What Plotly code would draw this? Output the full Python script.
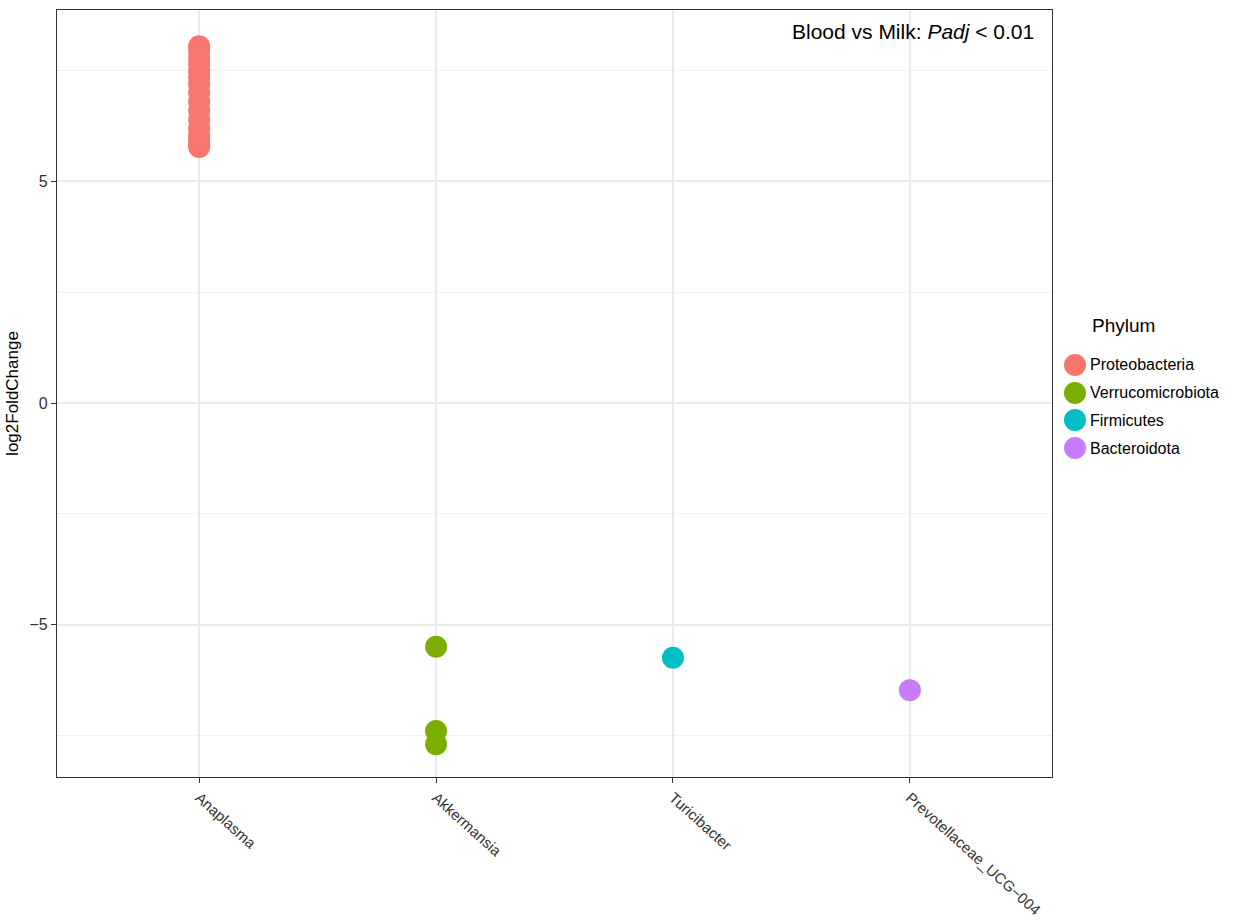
import plotly.graph_objects as go

# Differentially abundant genera (Blood vs Milk), log2 fold change per ASV
genera = ["Anaplasma", "Akkermansia", "Turicibacter", "Prevotellaceae_UCG\u2212004"]
phyla = ["Proteobacteria", "Verrucomicrobiota", "Firmicutes", "Bacteroidota"]
colors = ["#F8766D", "#7CAE00", "#00BFC4", "#C77CFF"]

anaplasma_lfc = [8.05, 7.95, 7.8, 7.65, 7.5, 7.35, 7.2, 7.0, 6.8, 6.6, 6.4,
                 6.2, 6.05, 5.95, 5.85, 5.78]
akkermansia_lfc = [-5.5, -7.4, -7.7]
turicibacter_lfc = [-5.75]
prevotellaceae_lfc = [-6.48]

values = [anaplasma_lfc, akkermansia_lfc, turicibacter_lfc, prevotellaceae_lfc]

FONT = "Liberation Sans, Arial, Helvetica, sans-serif"

fig = go.Figure()
for genus, phylum, color, vals in zip(genera, phyla, colors, values):
    fig.add_trace(go.Scatter(
        x=[genus] * len(vals), y=vals, mode="markers", name=phylum,
        marker=dict(color=color, size=22, line=dict(width=0)),
        showlegend=False,
    ))

fig.add_annotation(
    x=1, y=1, xref="paper", yref="paper", xanchor="right", yanchor="top",
    xshift=-16, yshift=-8, showarrow=False,
    text="Blood vs Milk: <i>Padj</i> < 0.01",
    font=dict(family=FONT, size=21, color="black"),
)

# Legend drawn beside the panel: large keys like ggplot's
legend_x = 1.0231
legend_rows = [0.5372, 0.5007, 0.4654, 0.4289]
fig.add_annotation(
    x=1.0382, y=0.5893, xref="paper", yref="paper", xanchor="left", yanchor="middle",
    showarrow=False, text="Phylum", font=dict(family=FONT, size=19, color="black"),
)
for phylum, color, ry in zip(phyla, colors, legend_rows):
    fig.add_shape(
        type="circle", xref="paper", yref="paper",
        xsizemode="pixel", ysizemode="pixel",
        xanchor=legend_x, yanchor=ry, x0=-11, x1=11, y0=-11, y1=11,
        fillcolor=color, line=dict(width=0),
    )
    fig.add_annotation(
        x=legend_x, y=ry, xref="paper", yref="paper", xanchor="left", yanchor="middle",
        xshift=13, showarrow=False, text=phylum,
        font=dict(family=FONT, size=16, color="black"),
    )

fig.update_layout(
    width=1256, height=924,
    margin=dict(l=57, r=204, t=10, b=147),
    paper_bgcolor="white", plot_bgcolor="white",
    font=dict(family=FONT, color="black"),
    showlegend=False,
)

fig.update_xaxes(
    type="category", categoryorder="array", categoryarray=genera,
    range=[-0.6, 3.6], automargin=False,
    showgrid=True, gridcolor="#EBEBEB", gridwidth=1.5,
    showline=True, linecolor="#333333", linewidth=1.2, mirror=True,
    ticks="outside", ticklen=5, tickcolor="#333333",
    tickangle=42, tickfont=dict(size=15, color="#333333", family=FONT),
    zeroline=False,
)
fig.update_yaxes(
    range=[-8.44, 8.87], automargin=False,
    tickvals=[-5, 0, 5], ticktext=["\u22125", "0", "5"],
    showgrid=True, gridcolor="#EBEBEB", gridwidth=1.5,
    minor=dict(tickvals=[-7.5, -2.5, 2.5, 7.5], showgrid=True,
               gridcolor="#F2F2F2", gridwidth=1),
    showline=True, linecolor="#333333", linewidth=1.2, mirror=True,
    ticks="outside", ticklen=5, tickcolor="#333333",
    tickfont=dict(size=16, color="#333333", family=FONT),
    title=dict(text="log2FoldChange", font=dict(size=17, color="black"), standoff=6),
    zeroline=False,
)

fig.write_html("out.html")
